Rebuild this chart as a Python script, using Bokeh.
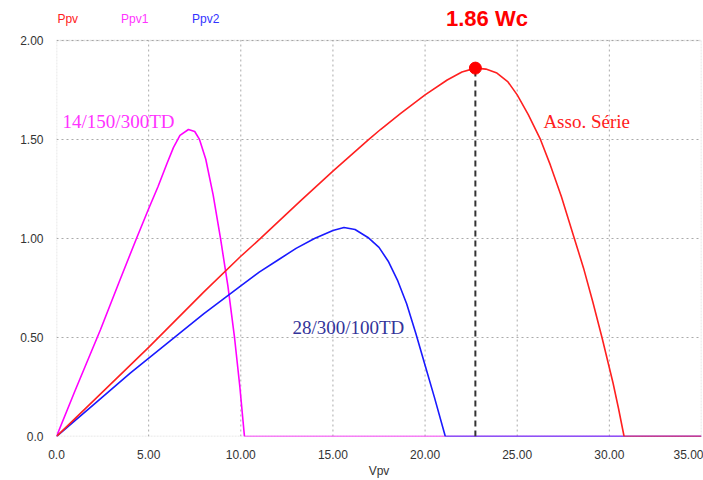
from bokeh.plotting import figure
from bokeh.models import Label, FixedTicker, BoxAnnotation
from bokeh.embed import file_html
from bokeh.resources import INLINE

# Ppv (series association)
v_ppv = [0, 2, 5, 8, 10, 11.07, 13.24, 15, 16.95, 17.58, 18.66, 20, 21.2, 22, 22.73,
         23.3, 23.9, 24.5, 25, 25.6, 26.26, 26.8, 27.4, 28.1, 28.6, 29.1, 29.6, 30.2, 30.5, 30.8, 35]
p_ppv = [0, 0.18, 0.45, 0.73, 0.91, 1.00, 1.19, 1.34, 1.50, 1.55, 1.63, 1.725, 1.80, 1.84, 1.86,
         1.855, 1.835, 1.79, 1.725, 1.625, 1.50, 1.37, 1.21, 1.00, 0.85, 0.68, 0.50, 0.27, 0.14, 0, 0]

# Ppv1 (14/150/300TD)
v_ppv1 = [0, 1, 2.39, 3.4, 4.34, 5, 5.5, 6, 6.35, 6.7, 7.16, 7.5, 7.76, 8.1, 8.5, 8.9, 9.3, 9.66, 9.95, 10.2, 35]
p_ppv1 = [0, 0.23, 0.54, 0.78, 1.00, 1.15, 1.26, 1.38, 1.46, 1.52, 1.55, 1.54, 1.50, 1.40, 1.22, 1.00, 0.76, 0.50, 0.25, 0, 0]

# Ppv2 (28/300/100TD)
v_ppv2 = [0, 2, 4, 6, 8, 10, 11, 12, 13, 14, 15, 15.6, 16.2, 16.9, 17.5, 18, 18.5, 19, 19.5, 20, 20.5, 21.1, 35]
p_ppv2 = [0, 0.16, 0.32, 0.47, 0.62, 0.76, 0.83, 0.89, 0.95, 1.00, 1.04, 1.055, 1.045, 1.005, 0.955, 0.885, 0.79, 0.67, 0.52, 0.36, 0.20, 0, 0]

mpp_v = 22.73
mpp_p = 1.86

x_ticks = [0, 5, 10, 15, 20, 25, 30, 35]
x_tick_labels = ["0.0", "5.00", "10.00", "15.00", "20.00", "25.00", "30.00", "35.00"]
y_ticks = [0, 0.5, 1.0, 1.5, 2.0]
y_tick_labels = ["0.0", "0.50", "1.00", "1.50", "2.00"]

x_min, x_max = 0, 35
y_min, y_max = 0, 2.0
y_top = 2.161  # room above the plotting box for the header texts

p = figure(width=703, height=480, output_backend="svg", toolbar_location=None,
           x_range=(x_min, x_max), y_range=(y_min, y_top),
           min_border_left=56, min_border_right=2, min_border_top=8, min_border_bottom=41)
p.background_fill_color = "white"
p.border_fill_color = "white"
p.outline_line_color = None

for ax in (p.xaxis[0], p.yaxis[0]):
    ax.axis_line_color = None
    ax.major_tick_line_color = None
    ax.minor_tick_line_color = None
    ax.major_label_text_font = "Liberation Sans"
    ax.major_label_text_font_size = "12px"
    ax.major_label_text_color = "#333333"
    ax.major_label_standoff = 7

p.xaxis.ticker = FixedTicker(ticks=x_ticks)
p.yaxis.ticker = FixedTicker(ticks=y_ticks)
p.xaxis.major_label_overrides = {t: l for t, l in zip(x_ticks, x_tick_labels)}
p.yaxis.major_label_overrides = {t: l for t, l in zip(y_ticks, y_tick_labels)}
p.xaxis.axis_label = "Vpv"
p.xaxis.axis_label_text_font = "Liberation Sans"
p.xaxis.axis_label_text_font_style = "normal"
p.xaxis.axis_label_text_font_size = "12px"
p.xaxis.axis_label_text_color = "#333333"
p.xaxis.axis_label_standoff = 2

# grid
p.xgrid.visible = False
p.ygrid.grid_line_color = "#aaaaaa"
p.ygrid.grid_line_dash = "2 3"
p.segment(x0=x_ticks[1:-1], y0=y_min, x1=x_ticks[1:-1], y1=y_max,
          line_color="#aaaaaa", line_dash="2 3", line_width=1)

# dotted box around the plotting area
p.add_layout(BoxAnnotation(left=x_min, right=x_max, bottom=y_min, top=y_max,
                           fill_color=None, line_color="#999999",
                           line_dash="2 1", line_width=1.5))

p.line(v_ppv1, p_ppv1, line_color="#ff00ff", line_width=1.6)
p.line(v_ppv2, p_ppv2, line_color="#1a1aff", line_width=1.6)
p.line(v_ppv, p_ppv, line_color="#ff2020", line_width=1.6)

p.line([mpp_v, mpp_v], [0, mpp_p], line_color="#333333", line_width=2, line_dash="6 4")
p.scatter([mpp_v], [mpp_p], size=12, color="#ff0000")

def lab(x, y, t, color, size, font="Liberation Sans", style="normal", align="left"):
    p.add_layout(Label(x=x, y=y, text=t, text_color=color, text_font=font,
                       text_font_size=size, text_font_style=style,
                       text_align=align, text_baseline="middle"))

lab(0.05, 2.11, "Ppv", "#ff2020", "12px")
lab(3.5, 2.11, "Ppv1", "#ff33ff", "12px")
lab(7.35, 2.11, "Ppv2", "#3333ff", "12px")
lab(23.36, 2.11, "1.86 Wc", "#ff0000", "22px", style="bold", align="center")

lab(0.33, 1.59, "14/150/300TD", "#ff33ff", "19px", font="Liberation Serif")
lab(26.42, 1.59, "Asso. Série", "#ff2020", "19px", font="Liberation Serif")
lab(12.8, 0.55, "28/300/100TD", "#333399", "19px", font="Liberation Serif")

open("out.html", "w").write(file_html(p, INLINE))
